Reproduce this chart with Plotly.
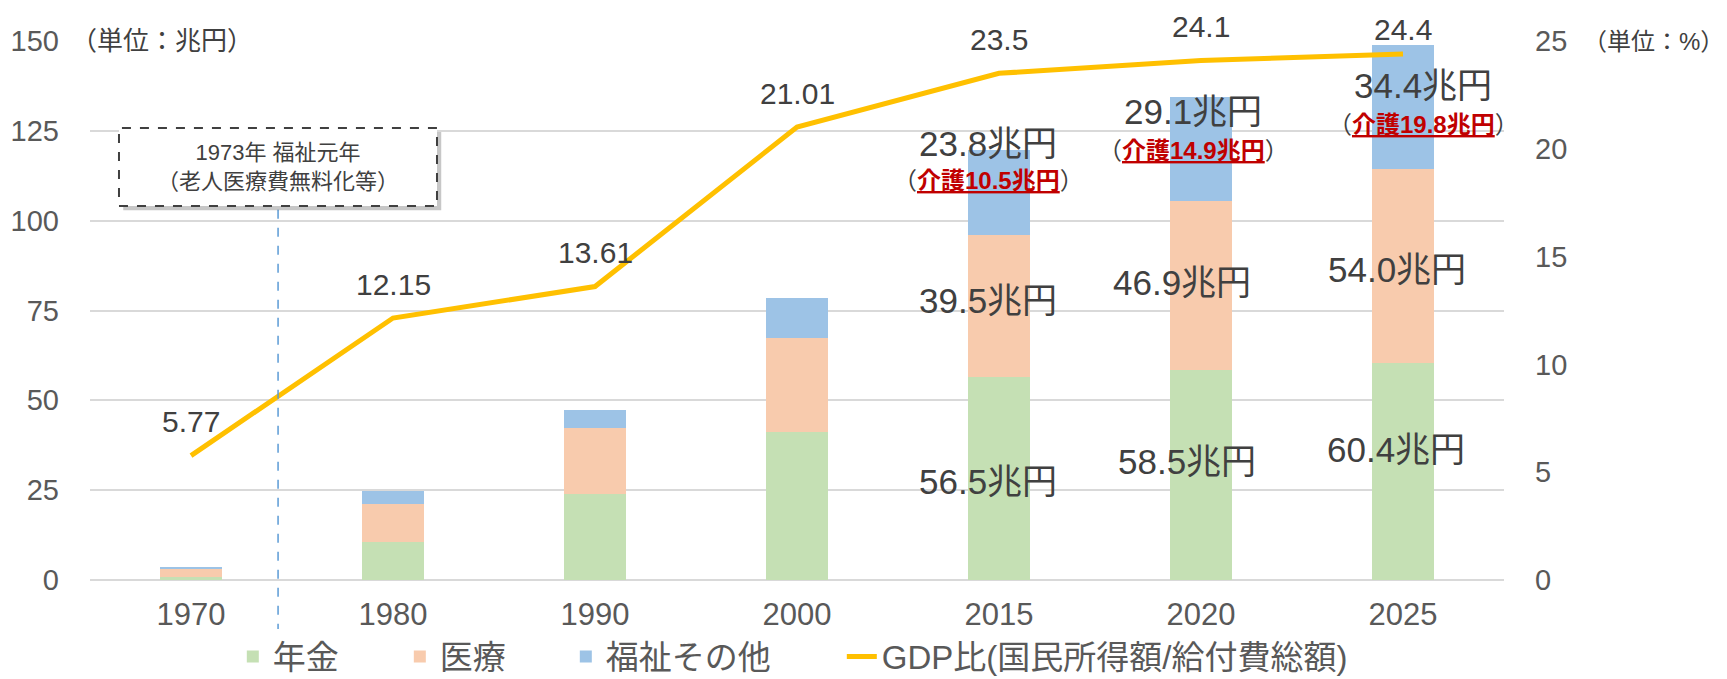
import plotly.graph_objects as go

# data
years = ["1970", "1980", "1990", "2000", "2015", "2020", "2025"]
pension = [0.9, 10.5, 24.0, 41.2, 56.5, 58.5, 60.4]
medical = [2.1, 10.7, 18.4, 26.2, 39.5, 46.9, 54.0]
welfare = [0.6, 3.7, 5.0, 11.0, 23.8, 29.1, 34.4]
gdp_ratio = [5.77, 12.15, 13.61, 21.01, 23.5, 24.1, 24.4]
gdp_text = ["5.77", "12.15", "13.61", "21.01", "23.5", "24.1", "24.4"]

# value labels for the last three years
lbl_years = ["2015", "2020", "2025"]
lbl_pension = ["56.5兆円", "58.5兆円", "60.4兆円"]
lbl_medical = ["39.5兆円", "46.9兆円", "54.0兆円"]
lbl_welfare = ["23.8兆円", "29.1兆円", "34.4兆円"]
lbl_care = ["介護10.5兆円", "介護14.9兆円", "介護19.8兆円"]

FONT = "Liberation Sans, Arial, Noto Sans CJK JP"
TXT = "#404040"
TICK = "#595959"

fig = go.Figure()
fig.add_trace(go.Bar(x=years, y=pension, name="年金", legendwidth=122,
                     marker=dict(color="#C5E0B4", line_width=0)))
fig.add_trace(go.Bar(x=years, y=medical, name="医療", legendwidth=121,
                     marker=dict(color="#F8CBAD", line_width=0)))
fig.add_trace(go.Bar(x=years, y=welfare, name="福祉その他", legendwidth=231,
                     marker=dict(color="#9DC3E6", line_width=0)))
fig.add_trace(go.Scatter(x=years, y=gdp_ratio, yaxis="y2", mode="lines",
                         name="GDP比(国民所得額/給付費総額)",
                         line=dict(color="#FFC000", width=5)))

ann = []
# line labels (category index used as x); the last one sits lower to stay on the page
line_shift = [34, 34, 34, 34, 34, 34, 24]
for i, (v, t) in enumerate(zip(gdp_ratio, gdp_text)):
    ann.append(dict(x=i, y=v, xref="x", yref="y2", text=t, showarrow=False,
                    yshift=line_shift[i], borderpad=0, font=dict(size=30, color=TXT)))

# segment labels (y positions in left-axis units)
pos_pension = [27.4, 33.0, 36.3]
pos_medical = [77.9, 82.8, 86.5]
pos_welfare = [121.5, 130.4, 137.7]
pos_care = [111.2, 119.6, 126.8]
shift_p = [-11, -14, -7]
shift_m = [-11, -19, -6]
shift_w = [-11, -8, 20]
for i, yr in enumerate(lbl_years):
    x = years.index(yr)
    ann.append(dict(x=x, y=pos_pension[i], xref="x", yref="y", text=lbl_pension[i],
                    showarrow=False, xshift=shift_p[i], font=dict(size=35, color=TXT)))
    ann.append(dict(x=x, y=pos_medical[i], xref="x", yref="y", text=lbl_medical[i],
                    showarrow=False, xshift=shift_m[i], font=dict(size=35, color=TXT)))
    ann.append(dict(x=x, y=pos_welfare[i], xref="x", yref="y", text=lbl_welfare[i],
                    showarrow=False, xshift=shift_w[i], font=dict(size=35, color=TXT)))
    ann.append(dict(x=x, y=pos_care[i], xref="x", yref="y", showarrow=False, xshift=shift_w[i],
                    text="（<span style='color:#C00000'><b><u>" + lbl_care[i] + "</u></b></span>）",
                    font=dict(size=24, color=TXT)))

# unit labels
ann.append(dict(x=-0.015, y=1.0, xref="paper", yref="paper", xanchor="left", yanchor="middle",
                text="（単位：兆円）", showarrow=False, bgcolor="white", width=200, align="left",
                font=dict(size=26, color=TXT)))
ann.append(dict(x=1.157, y=1.0, xref="paper", yref="paper", xanchor="right", yanchor="middle",
                text="（単位：%）", showarrow=False, font=dict(size=24, color=TXT)))

# 1973 box text
ann.append(dict(x=0.133, y=0.766, xref="paper", yref="paper", xanchor="center", yanchor="middle",
                showarrow=False, text="1973年 福祉元年<br>（老人医療費無料化等）",
                font=dict(size=22, color=TXT)))

shapes = [
    dict(type="line", xref="paper", yref="paper", x0=0.133, x1=0.133, y0=-0.098, y1=0.694,
         line=dict(color="#5B9BD5", width=1.5, dash="dash")),
    dict(type="rect", xref="paper", yref="paper", x0=0.0235, x1=0.2484, y0=0.686, y1=0.831,
         line=dict(width=0), fillcolor="rgba(0,0,0,0.22)"),
    dict(type="rect", xref="paper", yref="paper", x0=0.0205, x1=0.2454, y0=0.694, y1=0.8386,
         line=dict(color="#404040", width=2, dash="dash"), fillcolor="white"),
]

fig.update_layout(
    width=1727, height=679,
    barmode="stack", bargap=0.69,
    plot_bgcolor="white", paper_bgcolor="white",
    font=dict(family=FONT, color=TXT),
    # page body adds 8px, so the margins are 8px smaller than the target plot edges
    margin=dict(l=82, r=231, t=33, b=107, autoexpand=False),
    xaxis=dict(type="category", range=[-0.5, 6.5], showgrid=False, showline=False, ticks="",
               automargin=False, ticklabelstandoff=13, tickfont=dict(size=31, color=TICK)),
    yaxis=dict(range=[0, 150], dtick=25, gridcolor="#D9D9D9", gridwidth=1.5,
               zeroline=True, zerolinecolor="#D9D9D9", zerolinewidth=1.5, automargin=False,
               ticks="", ticklabelstandoff=30, tickfont=dict(size=29, color=TICK)),
    yaxis2=dict(range=[0, 25], dtick=5, overlaying="y", side="right", showgrid=False,
                zeroline=False, ticks="", ticklabelstandoff=30, automargin=False,
                tickfont=dict(size=29, color=TICK)),
    legend=dict(orientation="h", x=0.101, xanchor="left", y=-0.142, yanchor="middle",
                traceorder="normal", font=dict(size=33, color=TICK)),
    annotations=ann,
    shapes=shapes,
)

fig.write_html("out.html")
